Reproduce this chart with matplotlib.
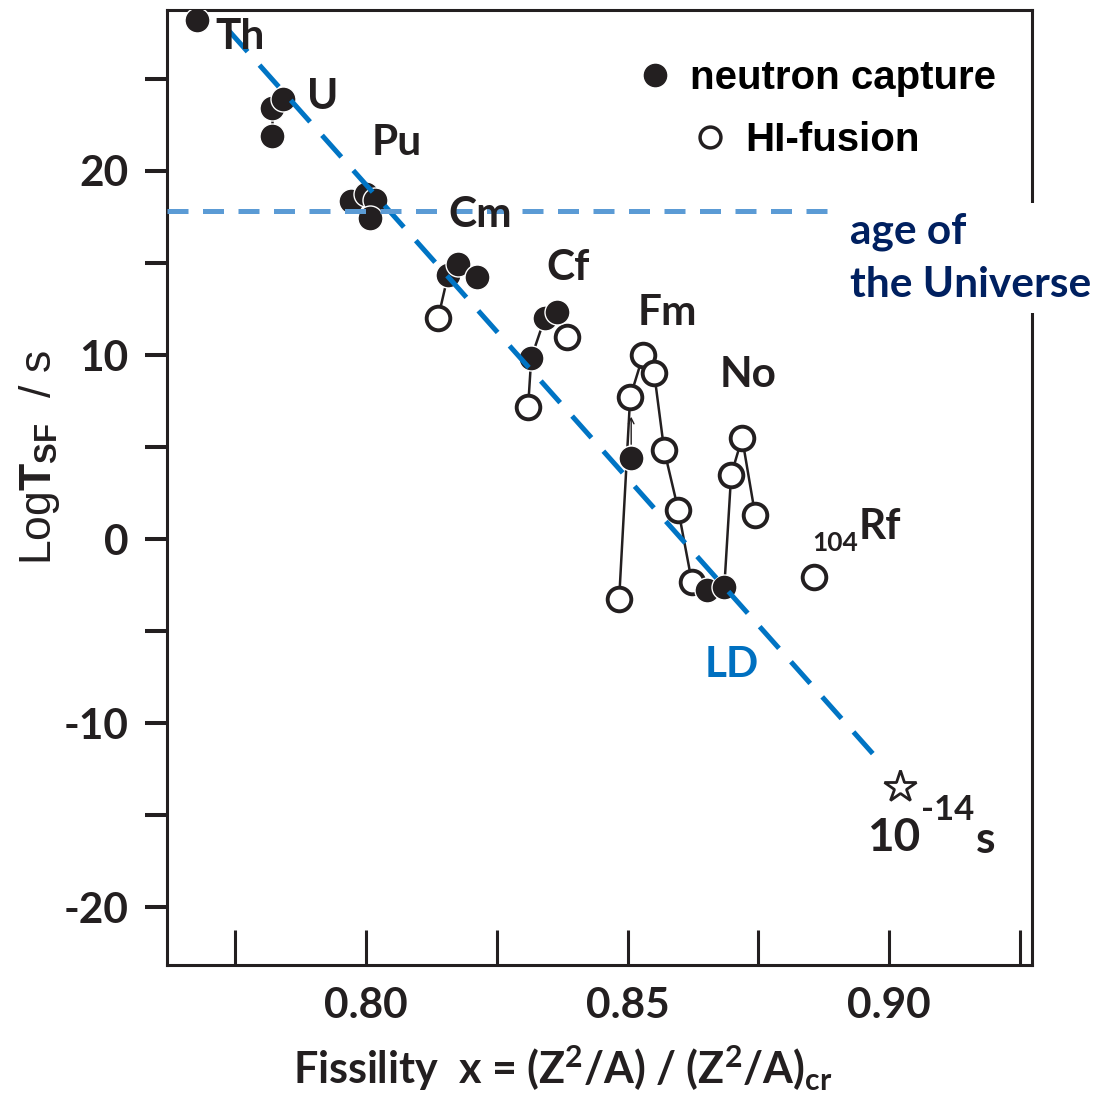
import matplotlib
matplotlib.use('Agg')
import matplotlib.pyplot as plt
from matplotlib.lines import Line2D

plt.rcParams['font.family'] = ['Lato', 'DejaVu Sans']
plt.rcParams['mathtext.fontset'] = 'custom'
plt.rcParams['mathtext.rm'] = 'Lato:bold'
plt.rcParams['mathtext.it'] = 'Lato:bold'
plt.rcParams['mathtext.bf'] = 'Liberation Sans:bold'
plt.rcParams['mathtext.sf'] = 'Liberation Sans'
plt.rcParams['mathtext.default'] = 'rm'

# neutron capture (filled) points: fissility, log T_SF
filled_x = [0.7677, 0.7820, 0.7842, 0.7820, 0.7971, 0.8000, 0.8017, 0.8008,
            0.8157, 0.8176, 0.8212, 0.8316, 0.8342, 0.8365, 0.8507, 0.8652, 0.8685]
filled_y = [28.2, 23.4, 23.9, 21.9, 18.37, 18.75, 18.4, 17.45,
            14.35, 14.95, 14.24, 9.84, 12.01, 12.34, 4.4, -2.77, -2.6]

# HI-fusion (open) points
open_x = [0.8138, 0.8310, 0.8384, 0.8484, 0.8505, 0.8530, 0.8551, 0.8570,
          0.8597, 0.8623, 0.8698, 0.8719, 0.8744, 0.8857]
open_y = [12.01, 7.17, 10.98, -3.26, 7.7, 10.0, 9.0, 4.84,
          1.58, -2.34, 3.48, 5.49, 1.30, -2.07]

# isotope chains joined by thin lines
chains = [
    ([0.7820, 0.7820], [23.4, 21.9]),
    ([0.8157, 0.8138], [14.35, 12.01]),
    ([0.8342, 0.8316, 0.8310], [12.01, 9.84, 7.17]),
    ([0.8484, 0.8505, 0.8530, 0.8551, 0.8570, 0.8597, 0.8623],
     [-3.26, 7.7, 10.0, 9.0, 4.84, 1.58, -2.34]),
    ([0.8685, 0.8698, 0.8719, 0.8744], [-2.6, 3.48, 5.49, 1.30]),
]

# liquid drop trend and extrapolated point
ld_x = [0.7737, 0.8973]
ld_y = [27.66, -11.8]
star_x, star_y = 0.9021, -13.5
age_universe = 17.83

# element labels
elements = ['Th', 'U', 'Pu', 'Cm', 'Cf', 'Fm', 'No']
label_x = [0.7759, 0.7918, 0.8059, 0.8218, 0.8386, 0.8576, 0.8730]
label_y = [27.28, 24.02, 21.52, 17.61, 14.73, 12.28, 8.91]

ink = '#231f20'

fig = plt.figure(figsize=(11.18, 10.96), dpi=100)
ax = fig.add_axes([0.1494, 0.1195, 0.7737, 0.8714])
ax.set_xlim(0.7620, 0.9273)
ax.set_ylim(-23.15, 28.75)

for cx, cy in chains:
    ax.plot(cx, cy, color=ink, lw=1.8, zorder=2)

ax.plot(open_x, open_y, 'o', ms=17, mfc='white', mec=ink, mew=2.8, ls='none', zorder=3)
ax.plot(filled_x, filled_y, 'o', ms=18, mfc=ink, mec='white', mew=1.0, ls='none', zorder=4)
ax.plot(star_x, star_y, '*', ms=24, mfc='white', mec=ink, mew=2.0, zorder=4)

# arrow on the Fm neutron capture point
ax.annotate('', xy=(filled_x[14], filled_y[14] + 2.4), xytext=(filled_x[14], filled_y[14] + 0.6),
            arrowprops=dict(arrowstyle='->', lw=1.0, color=ink), zorder=5)

ax.plot(ld_x, ld_y, color='#0074c4', lw=3.6, dashes=(5.8, 3.6), zorder=6)
ax.plot([ax.get_xlim()[0], 0.8887], [age_universe] * 2, color='#5b9bd5', lw=3.6,
        dashes=(4.2, 2.9), zorder=6)

for name, tx, ty in zip(elements, label_x, label_y):
    ax.text(tx, ty, name, fontsize=30.5, fontweight='bold', color=ink,
            ha='center', va='center', zorder=7)
ax.text(0.8983, 0.65, 'Rf', fontsize=30.5, fontweight='bold', color=ink, ha='center', va='center')
ax.text(0.8897, -0.22, '104', fontsize=19, fontweight='bold', color=ink, ha='center', va='center')
ax.text(0.8700, -6.85, 'LD', fontsize=30.5, fontweight='bold', color='#0070c0', ha='center', va='center')
ax.text(0.9008, -16.25, '10', fontsize=33, fontweight='bold', color=ink, ha='center', va='center')
ax.text(0.9111, -14.73, '-14', fontsize=25, fontweight='bold', color=ink, ha='center', va='center')
ax.text(0.9184, -16.36, 's', fontsize=32, fontweight='bold', color=ink, ha='center', va='center')
ax.text(0.8925, 15.27, 'age of\nthe Universe', fontsize=30.5, fontweight='bold', color='#002060',
        ha='left', va='center', linespacing=1.5, clip_on=False, zorder=8,
        bbox=dict(facecolor='white', edgecolor='none', pad=6))

# legend, two rows offset like the original
h1 = Line2D([], [], marker='o', ls='none', ms=16, mfc=ink, mec=ink)
h2 = Line2D([], [], marker='o', ls='none', ms=15, mfc='white', mec=ink, mew=2.5)
lprop = dict(family='Liberation Sans', weight='bold', size=29)
leg1 = ax.legend([h1], ['neutron capture'], loc='center left', bbox_to_anchor=(0.541, 0.9288),
                 frameon=False, prop=lprop, handlelength=1.0, handletextpad=0.37,
                 borderpad=0, borderaxespad=0)
ax.add_artist(leg1)
ax.legend([h2], ['HI-fusion'], loc='center left', bbox_to_anchor=(0.6046, 0.8639),
          frameon=False, prop=lprop, handlelength=1.0, handletextpad=0.37,
          borderpad=0, borderaxespad=0)

ax.set_xticks([0.775, 0.80, 0.825, 0.85, 0.875, 0.90, 0.925])
ax.set_xticklabels(['', '0.80', '', '0.85', '', '0.90', ''])
ax.set_yticks([-20, -15, -10, -5, 0, 5, 10, 15, 20, 25])
ax.set_yticklabels(['-20', '', '-10', '', '0', '', '10', '', '20', ''])
ax.tick_params(axis='x', direction='in', length=25, width=2.2, pad=16, colors=ink,
               labelsize=30.5)
ax.tick_params(axis='y', direction='out', length=16, width=2.9, pad=12, colors=ink,
               labelsize=30.5)
for lab in ax.get_xticklabels() + ax.get_yticklabels():
    lab.set_fontweight('bold')
for sp in ax.spines.values():
    sp.set_linewidth(2.2)
    sp.set_color(ink)

ax.set_xlabel('Fissility  x = (Z$^{2}$/A) / (Z$^{2}$/A)$_{cr}$', fontsize=31,
              fontweight='bold', color=ink)
ax.xaxis.set_label_coords(0.457, -0.082)
ax.set_ylabel(r'$\mathsf{Log}\mathbf{T}_{\mathbf{SF}}\ \ \mathsf{/\ s}$', fontsize=32,
              color=ink, ha='center', va='center')
ax.yaxis.set_label_coords(-0.147, 0.531)

fig.savefig('out.png', dpi=100)
